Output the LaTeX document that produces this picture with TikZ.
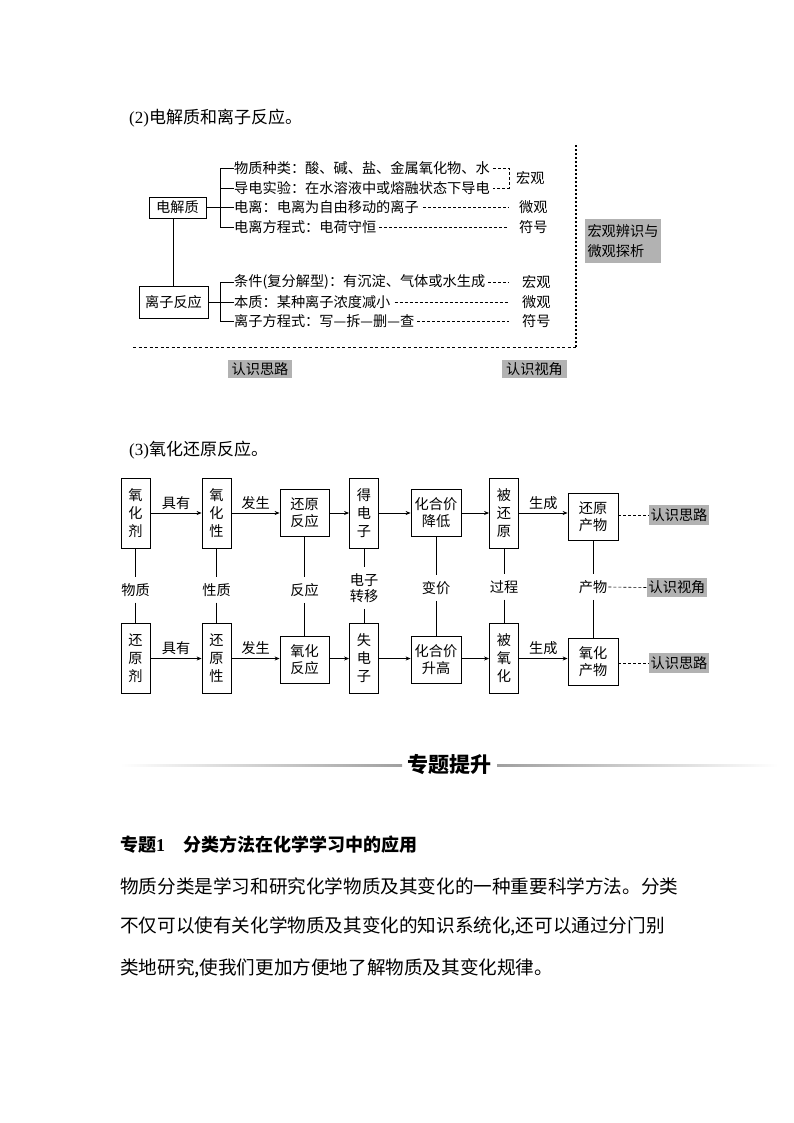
\documentclass[tikz,border=0pt]{standalone}
\usepackage{fontspec}
\setmainfont{Noto Sans CJK SC}
\newfontfamily\tnr{Liberation Serif}
\usetikzlibrary{arrows.meta,calc}
\tikzset{
  fs/.style={font=\fontsize{14.2}{17}\selectfont},
  bx/.style={draw, line width=0.8pt, inner sep=0pt, fs, align=center},
  tallbox/.style={bx, minimum width=29pt, minimum height=70pt, font=\fontsize{14.2}{18}\selectfont},
  widebox/.style={bx, minimum width=49pt, minimum height=47pt},
  lbl/.style={fs, inner xsep=1pt, inner ysep=6pt, align=center, font=\fontsize{14.2}{16}\selectfont},
  alab/.style={fs, inner sep=3pt, midway, above},
  gbox/.style={fill=gray!60, fs, inner sep=0pt, minimum width=60pt, minimum height=20pt},
  arr/.style={line width=0.8pt, -{Stealth[length=5pt,width=4pt]}},
  ln/.style={line width=0.8pt},
  dsh/.style={line width=0.6pt, dash pattern=on 3pt off 2pt},
  frame/.style={line width=1pt, dash pattern=on 3pt off 2.5pt},
  txt/.style={fs, anchor=west, inner sep=0pt},
}
\begin{document}
\begin{tikzpicture}[x=1pt,y=-1pt]
\useasboundingbox (0,0) rectangle (794,1123);

% ---------- (2) ----------
\node[anchor=west, inner sep=0pt, font=\fontsize{17}{20}\selectfont] (t2) at (129,118) {{\tnr (2)}电解质和离子反应。};

\node[bx, minimum width=57pt, minimum height=21pt] (dj) at (177.5,207.5) {电解质};
\node[bx, minimum width=69pt, minimum height=32pt] (lz) at (173.5,302) {离子反应};
\draw[ln] (lz.north) -- (lz.north |- dj.south);

\node[txt] (e1) at (234,168) {物质种类：酸、碱、盐、金属氧化物、水};
\node[txt] (e2) at (234,188) {导电实验：在水溶液中或熔融状态下导电};
\node[txt] (e3) at (234,207.5) {电离：电离为自由移动的离子};
\node[txt] (e4) at (234,227) {电离方程式：电荷守恒};
\coordinate (bk) at (220,0);
\draw[ln] (e1.west) -- (e1.west -| bk) -- (e4.west -| bk) -- (e4.west);
\draw[ln] (e2.west) -- (e2.west -| bk);
\draw[ln] (dj.east) -- (e3.west);

\node[txt] (h1) at (516,178) {宏观};
\node[txt] (w1) at (519,207.5) {微观};
\node[txt] (f1) at (519,227) {符号};
\coordinate (dk) at (509,0);
\draw[dsh] ([xshift=3pt]e1.east) -- (e1.east -| dk) -- (e2.east -| dk) -- ([xshift=3pt]e2.east);
\draw[dsh] ([xshift=4pt]e3.east) -- (e3.east -| dk);
\draw[dsh] ([xshift=3pt]e4.east) -- (e4.east -| dk);

\node[txt] (c1) at (234,282) {条件(复分解型)：有沉淀、气体或水生成};
\node[txt] (c2) at (234,302) {本质：某种离子浓度减小};
\node[txt] (c3) at (234,321.5) {离子方程式：写—拆—删—查};
\draw[ln] (c1.west) -- (c1.west -| bk) -- (c3.west -| bk) -- (c3.west);
\draw[ln] (lz.east) -- (c2.west);

\node[txt] (h2) at (522,282) {宏观};
\node[txt] (w2) at (522,302) {微观};
\node[txt] (f2) at (522,321.5) {符号};
\draw[dsh] ([xshift=3pt]c1.east) -- (c1.east -| dk);
\draw[dsh] ([xshift=4pt]c2.east) -- (c2.east -| dk);
\draw[dsh] ([xshift=3pt]c3.east) -- (c3.east -| dk);

\coordinate (fa) at (133,347);
\coordinate (fb) at (576,347);
\coordinate (fc) at (576,145);
\draw[frame] (fa) -- (fb);
\draw[line width=1.2pt, dash pattern=on 2pt off 2pt] (fb) -- (fc);

\node[gbox, minimum width=76pt, minimum height=44pt, align=left, font=\fontsize{14.2}{20}\selectfont] (hg) at (623,241) {宏观辨识与\\微观探析};
\node[gbox, minimum width=64pt, minimum height=18pt] (s1) at (260,369) {认识思路};
\node[gbox, minimum width=65pt, minimum height=18pt] (s2) at (534.5,369) {认识视角};

% ---------- (3) ----------
\node[anchor=west, inner sep=0pt, font=\fontsize{17}{20}\selectfont] (t3) at (129,450) {{\tnr (3)}氧化还原反应。};

\node[tallbox] (A1) at (135.5,513) {氧\\化\\剂};
\node[tallbox] (A2) at (216.5,513) {氧\\化\\性};
\node[widebox] (A3) at (304.5,513) {还原\\反应};
\node[tallbox] (A4) at (364,513) {得\\电\\子};
\node[widebox, minimum width=50pt] (A5) at (436,513) {化合价\\降低};
\node[tallbox] (A6) at (504,513) {被\\还\\原};
\node[widebox, minimum width=50pt] (A7) at (593,516.5) {还原\\产物};
\node[gbox] (G1) at (679,515) {认识思路};

\node[tallbox] (B1) at (135.5,658.5) {还\\原\\剂};
\node[tallbox] (B2) at (216.5,658.5) {还\\原\\性};
\node[widebox] (B3) at (304.5,659.5) {氧化\\反应};
\node[tallbox] (B4) at (364,658.5) {失\\电\\子};
\node[widebox, minimum width=50pt] (B5) at (436,660) {化合价\\升高};
\node[tallbox] (B6) at (504,658.5) {被\\氧\\化};
\node[widebox, minimum width=50pt] (B7) at (593,661.5) {氧化\\产物};
\node[gbox] (G3) at (679,663) {认识思路};

\node[lbl] (M1) at (135.5,590) {物质};
\node[lbl] (M2) at (216.5,590) {性质};
\node[lbl] (M3) at (304.5,590) {反应};
\node[lbl] (M4) at (364,588) {电子\\转移};
\node[lbl] (M5) at (436,588) {变价};
\node[lbl] (M6) at (504,587) {过程};
\node[lbl] (M7) at (593,587) {产物};
\node[gbox, minimum height=19pt] (G2) at (677,587.5) {认识视角};

\draw[arr] (A1) -- node[alab] {具有} (A2);
\draw[arr] (A2) -- node[alab] {发生} (A3);
\draw[arr] (A3) -- (A4);
\draw[arr] (A4) -- (A5);
\draw[arr] (A5) -- (A6);
\draw[arr] (A6) -- node[alab] {生成} (A6 -| A7.west);

\draw[arr] (B1) -- node[alab] {具有} (B2);
\draw[arr] (B2) -- node[alab] {发生} (B2 -| B3.west);
\draw[arr] (B2 -| B3.east) -- (B4);
\draw[arr] (B4) -- (B4 -| B5.west);
\draw[arr] (B4 -| B5.east) -- (B6);
\draw[arr] (B6) -- node[alab] {生成} (B6 -| B7.west);

\foreach \i in {1,...,7}{
  \draw[ln] (A\i) -- (M\i);
  \draw[ln] (M\i) -- (B\i);
}
\draw[dsh] (A7.east |- G1) -- (G1.west);
\draw[dsh] (M7.east) -- (G2.west);
\draw[dsh] (B7.east |- G3) -- (G3.west);

% ---------- 专题提升 ----------
\node[inner sep=2pt, font=\bfseries\fontsize{21}{24}\selectfont] (zt) at (449,765) {专题提升};
\shade[left color=white, right color=gray!75] (120,764.5) rectangle (402,766.5);
\shade[left color=gray!75, right color=white] (497,764.5) rectangle (778,766.5);

\node[anchor=west, inner sep=0pt, font=\bfseries\fontsize{18}{22}\selectfont] (hd) at (120,845) {专题{\tnr\bfseries 1}\hspace{1em}分类方法在化学学习中的应用};

\node[anchor=west, inner sep=0pt, font=\fontsize{18.6}{22}\selectfont] (p1) at (120,886) {物质分类是学习和研究化学物质及其变化的一种重要科学方法。分类};
\node[anchor=west, inner sep=0pt, font=\fontsize{18.6}{22}\selectfont] (p2) at (120,926) {不仅可以使有关化学物质及其变化的知识系统化,还可以通过分门别};
\node[anchor=west, inner sep=0pt, font=\fontsize{18.6}{22}\selectfont] (p3) at (120,968) {类地研究,使我们更加方便地了解物质及其变化规律。};
\end{tikzpicture}
\end{document}
